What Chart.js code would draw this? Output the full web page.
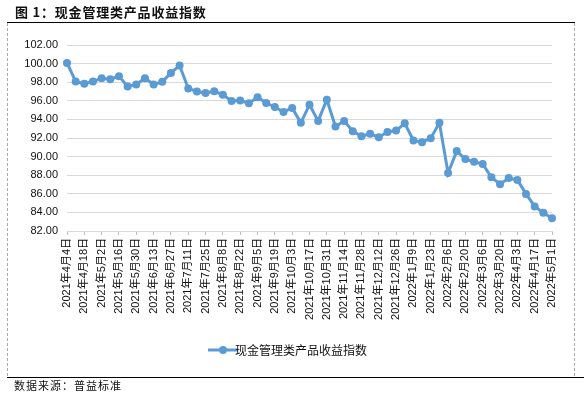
<!DOCTYPE html>
<html>
<head>
<meta charset="utf-8">
<script src="https://cdn.jsdelivr.net/npm/chart.js@4/dist/chart.umd.min.js"></script>
<style>
  body { margin: 0; background: #fff; }
  #wrap { position: relative; width: 584px; height: 396px; overflow: hidden; font-family: "Noto Sans CJK SC", sans-serif; }
  #c { position: absolute; left: 0; top: 0; }
  #title { position: absolute; left: 15px; top: 2px; font-size: 13px; font-weight: bold; letter-spacing: 0.8px; color: #111; }
  #topline { position: absolute; left: 7px; top: 22px; width: 568px; height: 0; border-top: 1px solid #000; }
  #box { position: absolute; left: 7px; top: 23px; width: 566px; height: 353px; border-left: 1px dashed #aaa; border-right: 1px dashed #aaa; }
  #botline { position: absolute; left: 7px; top: 377px; width: 577px; height: 0; border-top: 1px solid #000; }
  #source { position: absolute; left: 14px; top: 377px; font-size: 11px; letter-spacing: 1px; color: #111; }
</style>
</head>
<body>
<div id="wrap">
  <canvas id="c" width="584" height="396"></canvas>
  <div id="title">图 1：现金管理类产品收益指数</div>
  <div id="topline"></div>
  <div id="box"></div>
  <div id="botline"></div>
  <div id="source">数据来源：普益标准</div>
</div>
<script>
// 周度日期
const datas = [
  '2021年4月4日', '2021年4月11日', '2021年4月18日', '2021年4月25日', '2021年5月2日', '2021年5月9日',
  '2021年5月16日', '2021年5月23日', '2021年5月30日', '2021年6月6日', '2021年6月13日', '2021年6月20日',
  '2021年6月27日', '2021年7月4日', '2021年7月11日', '2021年7月18日', '2021年7月25日', '2021年8月1日',
  '2021年8月8日', '2021年8月15日', '2021年8月22日', '2021年8月29日', '2021年9月5日', '2021年9月12日',
  '2021年9月19日', '2021年9月26日', '2021年10月3日', '2021年10月10日', '2021年10月17日', '2021年10月24日',
  '2021年10月31日', '2021年11月7日', '2021年11月14日', '2021年11月21日', '2021年11月28日', '2021年12月5日',
  '2021年12月12日', '2021年12月19日', '2021年12月26日', '2022年1月2日', '2022年1月9日', '2022年1月16日',
  '2022年1月23日', '2022年1月30日', '2022年2月6日', '2022年2月13日', '2022年2月20日', '2022年2月27日',
  '2022年3月6日', '2022年3月13日', '2022年3月20日', '2022年3月27日', '2022年4月3日', '2022年4月10日',
  '2022年4月17日', '2022年4月24日', '2022年5月1日'
]

const indice = [
  100.07, 98.08, 97.83, 98.08, 98.43, 98.33, 98.65, 97.54, 97.76, 98.43,
  97.76, 98.04, 99.00, 99.79, 97.33, 97.00, 96.83, 97.02, 96.65, 95.98,
  96.04, 95.73, 96.37, 95.76, 95.33, 94.80, 95.23, 93.63, 95.58, 93.84,
  96.12, 93.23, 93.84, 92.73, 92.20, 92.45, 92.09, 92.65, 92.80, 93.58,
  91.73, 91.55, 91.98, 93.63, 88.24, 90.59, 89.73, 89.45, 89.20, 87.78,
  87.03, 87.70, 87.49, 85.99, 84.64, 83.96, 83.36
]

const nome_serie = '现金管理类产品收益指数'
const y_min = 82
const y_max = 102
const y_passo = 2

const azul = '#5B9BD5'
const fonte = '"Liberation Sans", "Noto Sans CJK SC", sans-serif'

// icone da legenda: linha com ponto
const icone = document.createElement('canvas')
icone.width = 30
icone.height = 10
const ictx = icone.getContext('2d')
ictx.strokeStyle = azul
ictx.lineWidth = 3
ictx.beginPath()
ictx.moveTo(0, 5)
ictx.lineTo(30, 5)
ictx.stroke()
ictx.fillStyle = azul
ictx.beginPath()
ictx.arc(15, 5, 4, 0, Math.PI * 2)
ictx.fill()

const ctx = document.getElementById('c')

const grafico = new Chart(ctx, {
  type: 'line',
  data: {
    labels: datas,
    datasets: [{
      label: nome_serie,
      data: indice,
      borderColor: azul,
      backgroundColor: azul,
      borderWidth: 3,
      pointRadius: 4,
      pointBorderWidth: 0,
      pointBackgroundColor: azul,
      tension: 0
    }]
  },
  options: {
    responsive: false,
    animation: false,
    layout: {
      padding: { left: 0, right: 0, top: 45, bottom: 30 }
    },
    scales: {
      x: {
        offset: false,
        afterFit: (s) => { s.height = 107 },
        grid: {
          drawOnChartArea: false,
          drawTicks: true,
          tickLength: 4,
          tickColor: (c) => (c.index % 2 === 0 ? '#BFBFBF' : 'transparent')
        },
        border: { color: '#D9D9D9' },
        ticks: {
          autoSkip: false,
          maxRotation: 90,
          minRotation: 90,
          padding: 3,
          color: '#111',
          font: { family: fonte, size: 11 },
          callback: function (v, i) {
            return i % 2 === 0 ? datas[i] : ''
          }
        }
      },
      y: {
        min: y_min,
        max: y_max,
        grid: { color: '#D9D9D9', drawTicks: false },
        border: { display: false },
        afterFit: (s) => { s.width = 67 },
        ticks: {
          stepSize: y_passo,
          padding: 9,
          color: '#111',
          font: { family: fonte, size: 11 },
          callback: (v) => v.toFixed(2)
        }
      },
      // eixo vazio so para a margem da direita
      y2: {
        position: 'right',
        display: true,
        grid: { display: false },
        border: { display: false },
        ticks: { display: false },
        afterFit: (s) => { s.width = 32 }
      }
    },
    plugins: {
      tooltip: { enabled: false },
      legend: {
        position: 'bottom',
        labels: {
          usePointStyle: true,
          color: '#111',
          font: { family: '"Noto Sans CJK SC", sans-serif', size: 12 },
          padding: 6,
          generateLabels: () => [{
            text: nome_serie,
            pointStyle: icone,
            fontColor: '#111',
            datasetIndex: 0
          }]
        }
      }
    }
  }
})
</script>
</body>
</html>
